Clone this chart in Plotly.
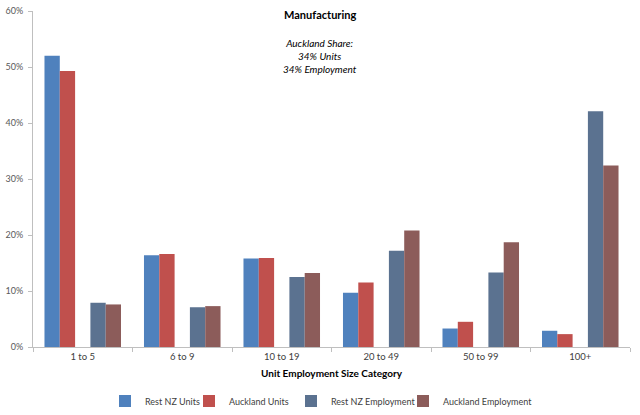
import plotly.graph_objects as go

categories = ["1 to 5", "6 to 9", "10 to 19", "20 to 49", "50 to 99", "100+"]
rest_nz_units = [0.520, 0.164, 0.158, 0.097, 0.033, 0.029]
auckland_units = [0.493, 0.166, 0.159, 0.115, 0.045, 0.023]
rest_nz_employment = [0.079, 0.071, 0.125, 0.172, 0.133, 0.421]
auckland_employment = [0.076, 0.073, 0.132, 0.208, 0.187, 0.324]
y_ticks = [0, 0.1, 0.2, 0.3, 0.4, 0.5, 0.6]

FONT = "Lato"
W, H = 640, 415
L, R, T, B = 33, 10, 11, 68
PW, PH = W - L - R, H - T - B


def px_x(px):
    return (px - L) / PW


def px_y(py):
    return (H - B - py) / PH


fig = go.Figure()
series = [
    ("Rest NZ Units", rest_nz_units, "#4F81BD", "legend", 125),
    ("Auckland Units", auckland_units, "#C0504D", "legend2", 209),
    (" ", [None] * len(categories), "rgba(0,0,0,0)", None, None),
    ("Rest NZ Employment", rest_nz_employment, "#5B7290", "legend3", 311),
    ("Auckland Employment", auckland_employment, "#8C5C5A", "legend4", 423),
]
for name, vals, color, leg, _ in series:
    fig.add_trace(go.Bar(
        x=categories, y=vals, name=name,
        marker=dict(color=color, line=dict(width=0)),
        showlegend=leg is not None,
        legend=leg if leg else "legend",
    ))

layout_legends = {}
for name, vals, color, leg, px in series:
    if leg is None:
        continue
    layout_legends[leg] = dict(
        xref="container", yref="container",
        x=(px - 20) / W, y=1 - 401 / H,
        xanchor="left", yanchor="middle",
        orientation="h",
        font=dict(family=FONT, size=9, color="#404040"),
        bgcolor="rgba(0,0,0,0)",
        itemwidth=30,
    )

fig.update_layout(
    width=W, height=H,
    margin=dict(l=L, r=R, t=T, b=B, autoexpand=False),
    paper_bgcolor="white", plot_bgcolor="white",
    barmode="group", bargap=1.5 / 6.5, bargroupgap=0,
    font=dict(family=FONT, color="#404040"),
    xaxis=dict(
        type="category",
        showline=True, linecolor="#BFBFBF", linewidth=1,
        ticks="outside", tickson="boundaries", ticklen=4, tickcolor="#BFBFBF",
        tickfont=dict(family=FONT, size=9.5, color="#404040"),
        ticklabelstandoff=1,
        showgrid=False,
        title=dict(text="<b>Unit Employment Size Category</b>",
                   font=dict(family=FONT, size=10, color="#000000"), standoff=8),
    ),
    yaxis=dict(
        range=[0, 0.6], tickvals=y_ticks, tickformat=".0%",
        showline=True, linecolor="#BFBFBF", linewidth=1,
        ticks="outside", ticklen=4, tickcolor="#BFBFBF",
        tickfont=dict(family=FONT, size=9, color="#595959"),
        ticklabelstandoff=3,
        showgrid=False, zeroline=False,
    ),
    annotations=[
        dict(text="<b>Manufacturing</b>", xref="paper", yref="paper",
             x=px_x(320), y=px_y(15), showarrow=False, xanchor="center", yanchor="middle",
             font=dict(family=FONT, size=11, color="#000000")),
        dict(text="<i>Auckland Share:<br>34% Units<br>34% Employment</i>",
             xref="paper", yref="paper",
             x=px_x(320), y=px_y(56), showarrow=False, xanchor="center", yanchor="middle",
             font=dict(family=FONT, size=10, color="#000000")),
    ],
    **layout_legends,
)

fig.write_html(
    "out.html",
    config={"displayModeBar": False},
    post_script="document.body.style.margin='0';document.body.style.padding='0';",
)
